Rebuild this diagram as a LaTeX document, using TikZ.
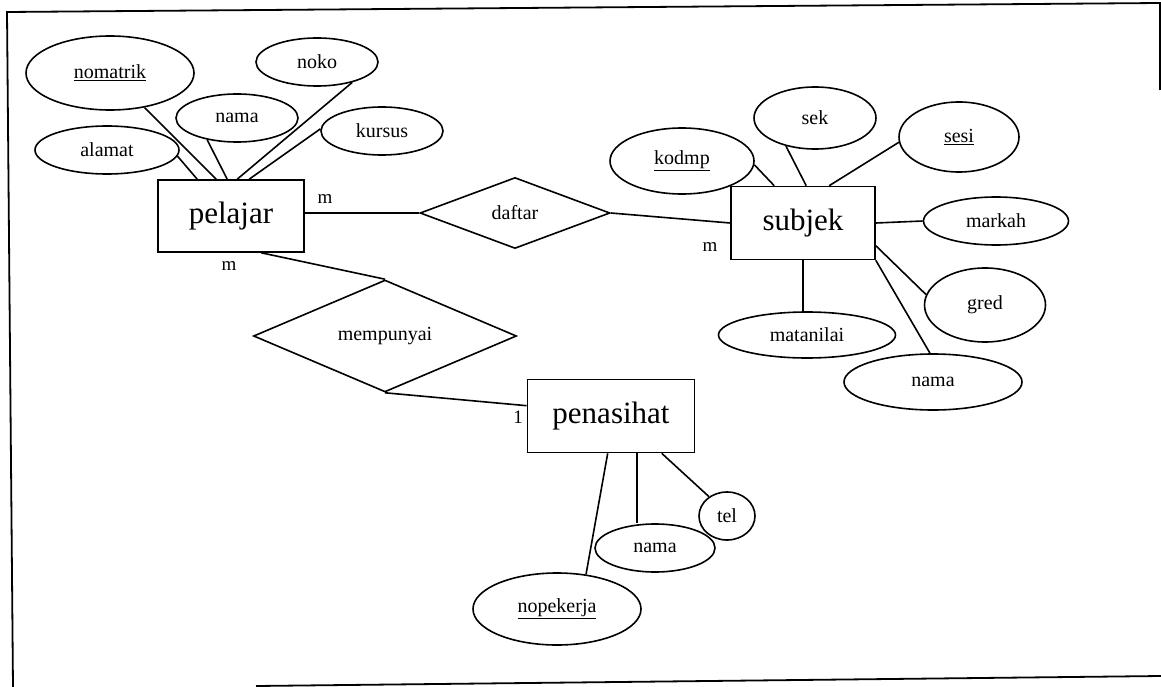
\documentclass[tikz,border=0pt]{standalone}
\usepackage{fontspec}
\setmainfont{Liberation Serif}
\usetikzlibrary{shapes.geometric,calc}
\begin{document}
\begin{tikzpicture}[x=1pt,y=-1pt, line width=1.6pt,
  ent/.style={draw, rectangle, inner sep=0pt, font=\fontsize{31}{33}\selectfont},
  attr/.style={draw, ellipse, inner sep=0pt, font=\fontsize{20}{22}\selectfont},
  rel/.style={draw, diamond, inner sep=0pt, font=\fontsize{20}{22}\selectfont},
  card/.style={font=\fontsize{19}{21}\selectfont, inner sep=0pt},
  frame/.style={line width=1.8pt}]
\useasboundingbox (0,0) rectangle (1161,687);
% frame
\coordinate (f1) at (7,12);
\coordinate (f2) at (1160,3);
\coordinate (f3) at (1160,90);
\coordinate (f4) at (13,687);
\coordinate (f5) at (256,686);
\coordinate (f6) at (1161,676);
\draw[frame] (f4) -- (f1) -- (f2) -- (f3);
\draw[frame] (f5) -- (f6);

% entities
\node[ent, minimum width=146pt, minimum height=72pt] (pelajar) at (231,216) {pelajar};
\node[ent, minimum width=144pt, minimum height=73pt] (subjek) at (803,223) {subjek};
\node[ent, minimum width=167pt, minimum height=73pt] (penasihat) at (611,416) {penasihat};

% relationships
\node[rel, minimum width=190pt, minimum height=71pt] (daftar) at (515,213) {daftar};
\node[rel, minimum width=263pt, minimum height=70pt] (mempunyai) at (385,336) {mempunyai};

% pelajar attributes
\node[attr, minimum width=168pt, minimum height=74pt] (nomatrik) at (110,73) {\underline{nomatrik}};
\node[attr, minimum width=122pt, minimum height=48pt] (noko) at (317,62) {noko};
\node[attr, minimum width=122pt, minimum height=48pt] (nama1) at (237,118) {nama};
\node[attr, minimum width=122pt, minimum height=48pt] (kursus) at (382,131) {kursus};
\node[attr, minimum width=144pt, minimum height=48pt] (alamat) at (107,150) {alamat};

% subjek attributes
\node[attr, minimum width=122pt, minimum height=62pt] (sek) at (815,118) {sek};
\node[attr, minimum width=120pt, minimum height=70pt] (sesi) at (959,137) {\underline{sesi}};
\node[attr, minimum width=144pt, minimum height=66pt] (kodmp) at (682,161) {\underline{kodmp}};
\node[attr, minimum width=145pt, minimum height=48pt] (markah) at (996,221) {markah};
\node[attr, minimum width=121pt, minimum height=74pt] (gred) at (985,305) {gred};
\node[attr, minimum width=178pt, minimum height=56pt] (nama2) at (933,382) {nama};
\node[attr, minimum width=177pt, minimum height=46pt] (matanilai) at (807,335) {matanilai};

% penasihat attributes
\node[attr, minimum width=56pt, minimum height=48pt] (tel) at (727,516) {tel};
\node[attr, minimum width=120pt, minimum height=48pt] (nama3) at (655,548) {nama};
\node[attr, minimum width=168pt, minimum height=72pt] (nopekerja) at (557,609) {\underline{nopekerja}};

% pelajar attribute lines
\draw (alamat.355) -- ($(pelajar.north west)+(40,0)$);
\draw (nomatrik.315) -- ($(pelajar.north west)+(59,0)$);
\draw (nama1.216) -- ($(pelajar.north west)+(70,0)$);
\draw (noko.330) -- ($(pelajar.north west)+(80,0)$);
\draw (kursus.178) -- ($(pelajar.north west)+(92,0)$);

% subjek attribute lines
\draw (kodmp.357) -- ($(subjek.north west)+(44,0)$);
\draw (sek.224) -- ($(subjek.north west)+(76,0)$);
\draw (sesi.185) -- ($(subjek.north west)+(99,0)$);
\draw (subjek.east) -- (markah.west);
\draw ($(subjek.north east)+(0,60)$) -- (gred.170);
\draw (subjek.south east) -- (nama2.96);
\draw (subjek.south) -- (subjek.south |- matanilai.north);

% penasihat attribute lines
\draw ($(penasihat.south west)+(81,0)$) -- (nopekerja.50);
\draw ($(penasihat.south west)+(110,0)$) coordinate (p3) -- (p3 |- nama3.north);
\draw ($(penasihat.south west)+(135,0)$) -- (tel.133);

% relationship lines
\draw (pelajar.east |- daftar.west) -- (daftar.west);
\draw (daftar.east) -- (subjek.west);
\draw ($(pelajar.south west)+(104,0)$) -- (mempunyai.north);
\draw (mempunyai.south) -- ($(penasihat.north west)+(0,27)$);

% cardinalities
\node[card] (c1) at (325,199) {m};
\node[card] (c2) at (710,247) {m};
\node[card] (c3) at (229,266) {m};
\node[card] (c4) at (518,417) {1};
\end{tikzpicture}
\end{document}
